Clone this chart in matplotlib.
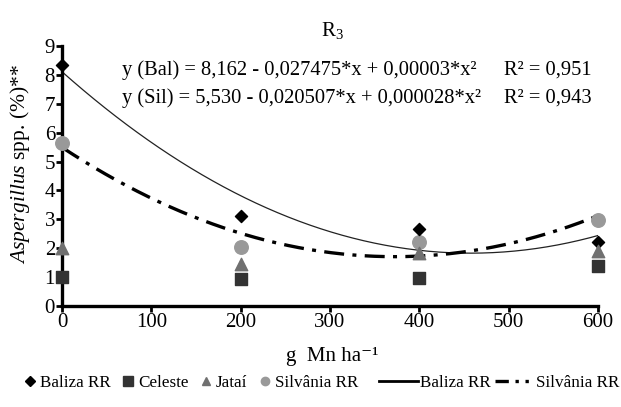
import numpy as np
import matplotlib
matplotlib.use("Agg")
import matplotlib.pyplot as plt
from matplotlib.lines import Line2D

plt.rcParams["font.family"] = ["Liberation Serif", "DejaVu Serif"]
plt.rcParams["mathtext.fontset"] = "custom"
plt.rcParams["mathtext.rm"] = "Liberation Serif"
plt.rcParams["mathtext.it"] = "Liberation Serif:italic"

# doses (g Mn/ha) and incidence per cultivar
doses = [0, 200, 400, 600]
baliza = [8.35, 3.10, 2.65, 2.20]
celeste = [1.00, 0.95, 0.97, 1.40]
jatai = [2.00, 1.45, 1.85, 1.90]
silvania = [5.65, 2.05, 2.20, 2.97]

eq_bal = "y (Bal) = 8,162 - 0,027475*x + 0,00003*x²"
eq_sil = "y (Sil) = 5,530 - 0,020507*x + 0,000028*x²"
r2_bal = "R² = 0,951"
r2_sil = "R² = 0,943"

fig = plt.figure(figsize=(6.21, 4.07), dpi=100)
ax = fig.add_axes([0.0998, 0.248, 0.863, 0.639])

ax.scatter(doses, baliza, marker="D", s=38, color="black", zorder=4, clip_on=False)
ax.scatter(doses, celeste, marker="s", s=70, color="#333333", zorder=4, clip_on=False)
ax.scatter(doses, jatai, marker="^", s=80, color="#707070", zorder=4, clip_on=False)
ax.scatter(doses, silvania, marker="o", s=95, color="#999999", zorder=3, clip_on=False)

# quadratic trend lines fitted to the points, as in the original
xs = np.linspace(0, 600, 200)
pb = np.polyfit(doses, baliza, 2)
ps = np.polyfit(doses, silvania, 2)
ax.plot(xs, np.polyval(pb, xs), color="#222222", lw=0.9, zorder=2)
ax.plot(xs, np.polyval(ps, xs), color="black", lw=2.4, zorder=2,
        dashes=(6, 2.5, 1.2, 2.5))

ax.set_xlim(0, 600)
ax.set_ylim(0, 9)
ax.set_xticks(range(0, 601, 100))
ax.set_yticks(range(0, 10))
for s in ("top", "right"):
    ax.spines[s].set_visible(False)
for s in ("left", "bottom"):
    ax.spines[s].set_linewidth(2.4)
ax.tick_params(direction="out", length=4, width=2, labelsize=15, pad=1)

ax.text(67, 8.17, eq_bal, fontsize=14.8, va="center")
ax.text(495, 8.17, r2_bal, fontsize=14.8, va="center")
ax.text(67, 7.2, eq_sil, fontsize=14.8, va="center")
ax.text(495, 7.2, r2_sil, fontsize=14.8, va="center")

fig.text(0.535, 0.925, "R$_3$", fontsize=15, ha="center", va="center")
fig.text(0.032, 0.596, r"$\mathit{Aspergillus}$ spp. (%)**", fontsize=15.5,
         rotation=90, ha="center", va="center")
fig.text(0.535, 0.123, "g  Mn ha⁻¹", fontsize=15, ha="center", va="center")

mk_handles = [
    Line2D([], [], ls="none", marker="D", ms=5, color="black"),
    Line2D([], [], ls="none", marker="s", ms=7, color="#333333"),
    Line2D([], [], ls="none", marker="^", ms=6, color="#707070"),
    Line2D([], [], ls="none", marker="o", ms=6, color="#999999"),
]
mk_labels = ["Baliza RR", "Celeste", "Jataí", "Silvânia RR"]
ln_handles = [
    Line2D([], [], color="black", lw=2),
    Line2D([], [], color="black", lw=2.4, dashes=(4, 2, 1, 2, 1, 2)),
]
ln_labels = ["Baliza RR", "Silvânia RR"]

fig.legend(mk_handles, mk_labels, loc="center left",
           bbox_to_anchor=(0.04, 0.059), ncol=4, frameon=False,
           fontsize=12.3, handlelength=0.6, handletextpad=0.3,
           columnspacing=0.7, borderaxespad=0, borderpad=0)
fig.legend(ln_handles, ln_labels, loc="center right",
           bbox_to_anchor=(0.998, 0.059), ncol=2, frameon=False,
           fontsize=12.3, handlelength=2.3, handletextpad=0.1,
           columnspacing=0.3, borderaxespad=0, borderpad=0)

fig.savefig("out.png", dpi=100)
